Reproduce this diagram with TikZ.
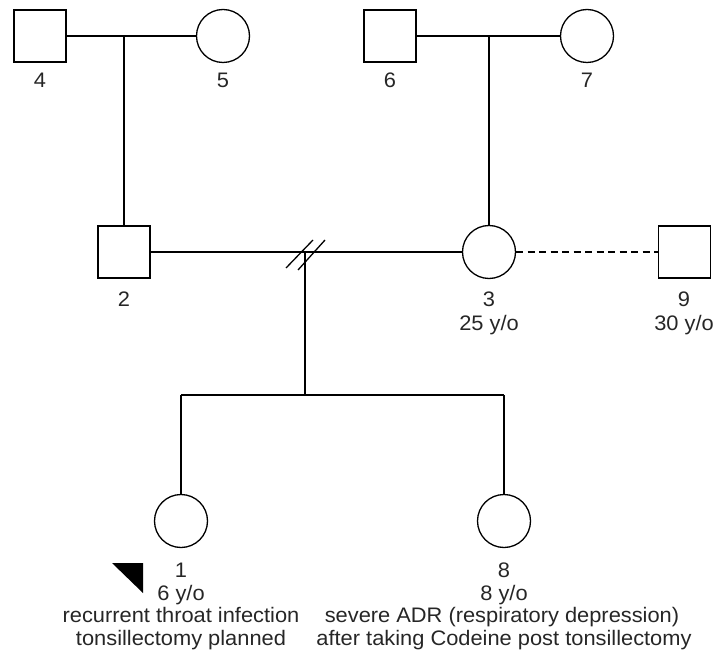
\documentclass[tikz,border=0pt]{standalone}
\usepackage{fontspec}
\setmainfont[FakeStretch=1.04]{Liberation Sans}
\begin{document}
\begin{tikzpicture}[x=1pt,y=-1pt,
  male/.style={draw, line width=1.3pt, rectangle, minimum size=52pt, inner sep=0pt},
  female/.style={draw, line width=1.3pt, circle, minimum size=53pt, inner sep=0pt},
  link/.style={line width=1.3pt},
  lbl/.style={anchor=base, inner sep=0pt, font=\fontsize{21}{23}\selectfont, text=black!85}]
\useasboundingbox (0,0) rectangle (717,668);
% persons
\node[male]   (p4) at (40,36) {};
\node[female] (p5) at (223,36) {};
\node[male]   (p6) at (390,36) {};
\node[female] (p7) at (587,36) {};
\node[male]   (p2) at (124,252) {};
\node[female] (p3) at (489,252) {};
\node[male]   (p9) at (684.5,252) {};
\node[female] (p1) at (181,521) {};
\node[female] (p8) at (504,521) {};
% junctions
\coordinate (m45) at (124,36);
\coordinate (m67) at (489,36);
\coordinate (m23) at (305,252);
\coordinate (sC) at (305,395);
\coordinate (sL) at (181,395);
\coordinate (sR) at (504,395);
% connectors
\draw[link] (p4.east) -- (p5.west);
\draw[link] (m45) -- (p2.north);
\draw[link] (p6.east) -- (p7.west);
\draw[link] (m67) -- (p3.north);
\draw[link] (p2.east) -- (p3.west);
\draw[link, dash pattern=on 7pt off 4.5pt] (p3.east) -- (p9.west);
\draw[link] (m23) -- (sC);
\draw[link] (sL) -- (sR);
\draw[link] (sL) -- (p1.north);
\draw[link] (sR) -- (p8.north);
% divorce marks
\draw[link] (m23) ++(-19,16) -- ++(27,-28);
\draw[link] (m23) ++(-7,18) -- ++(27,-30);
% proband marker
\fill (112,563) -- (143,563) -- (143,593) -- cycle;
% labels
\node[lbl] (t4) at (40,88) {4};
\node[lbl] (t5) at (223,88) {5};
\node[lbl] (t6) at (390,88) {6};
\node[lbl] (t7) at (587,88) {7};
\node[lbl] (t2) at (124,306) {2};
\node[lbl] (t3) at (489,306) {3};
\node[lbl] (t3b) at (489,330) {25 y/o};
\node[lbl] (t9) at (684,306) {9};
\node[lbl] (t9b) at (684,330) {30 y/o};
\node[lbl] (t1) at (181,577) {1};
\node[lbl] (t1b) at (181,600) {6 y/o};
\node[lbl] (t1c) at (181,622) {recurrent throat infection};
\node[lbl] (t1d) at (181,645) {tonsillectomy planned};
\node[lbl] (t8) at (504,577) {8};
\node[lbl] (t8b) at (504,600) {8 y/o};
\node[lbl] (t8c) at (502,622) {severe ADR (respiratory depression)};
\node[lbl] (t8d) at (504,645) {after taking Codeine post tonsillectomy};
\end{tikzpicture}
\end{document}
